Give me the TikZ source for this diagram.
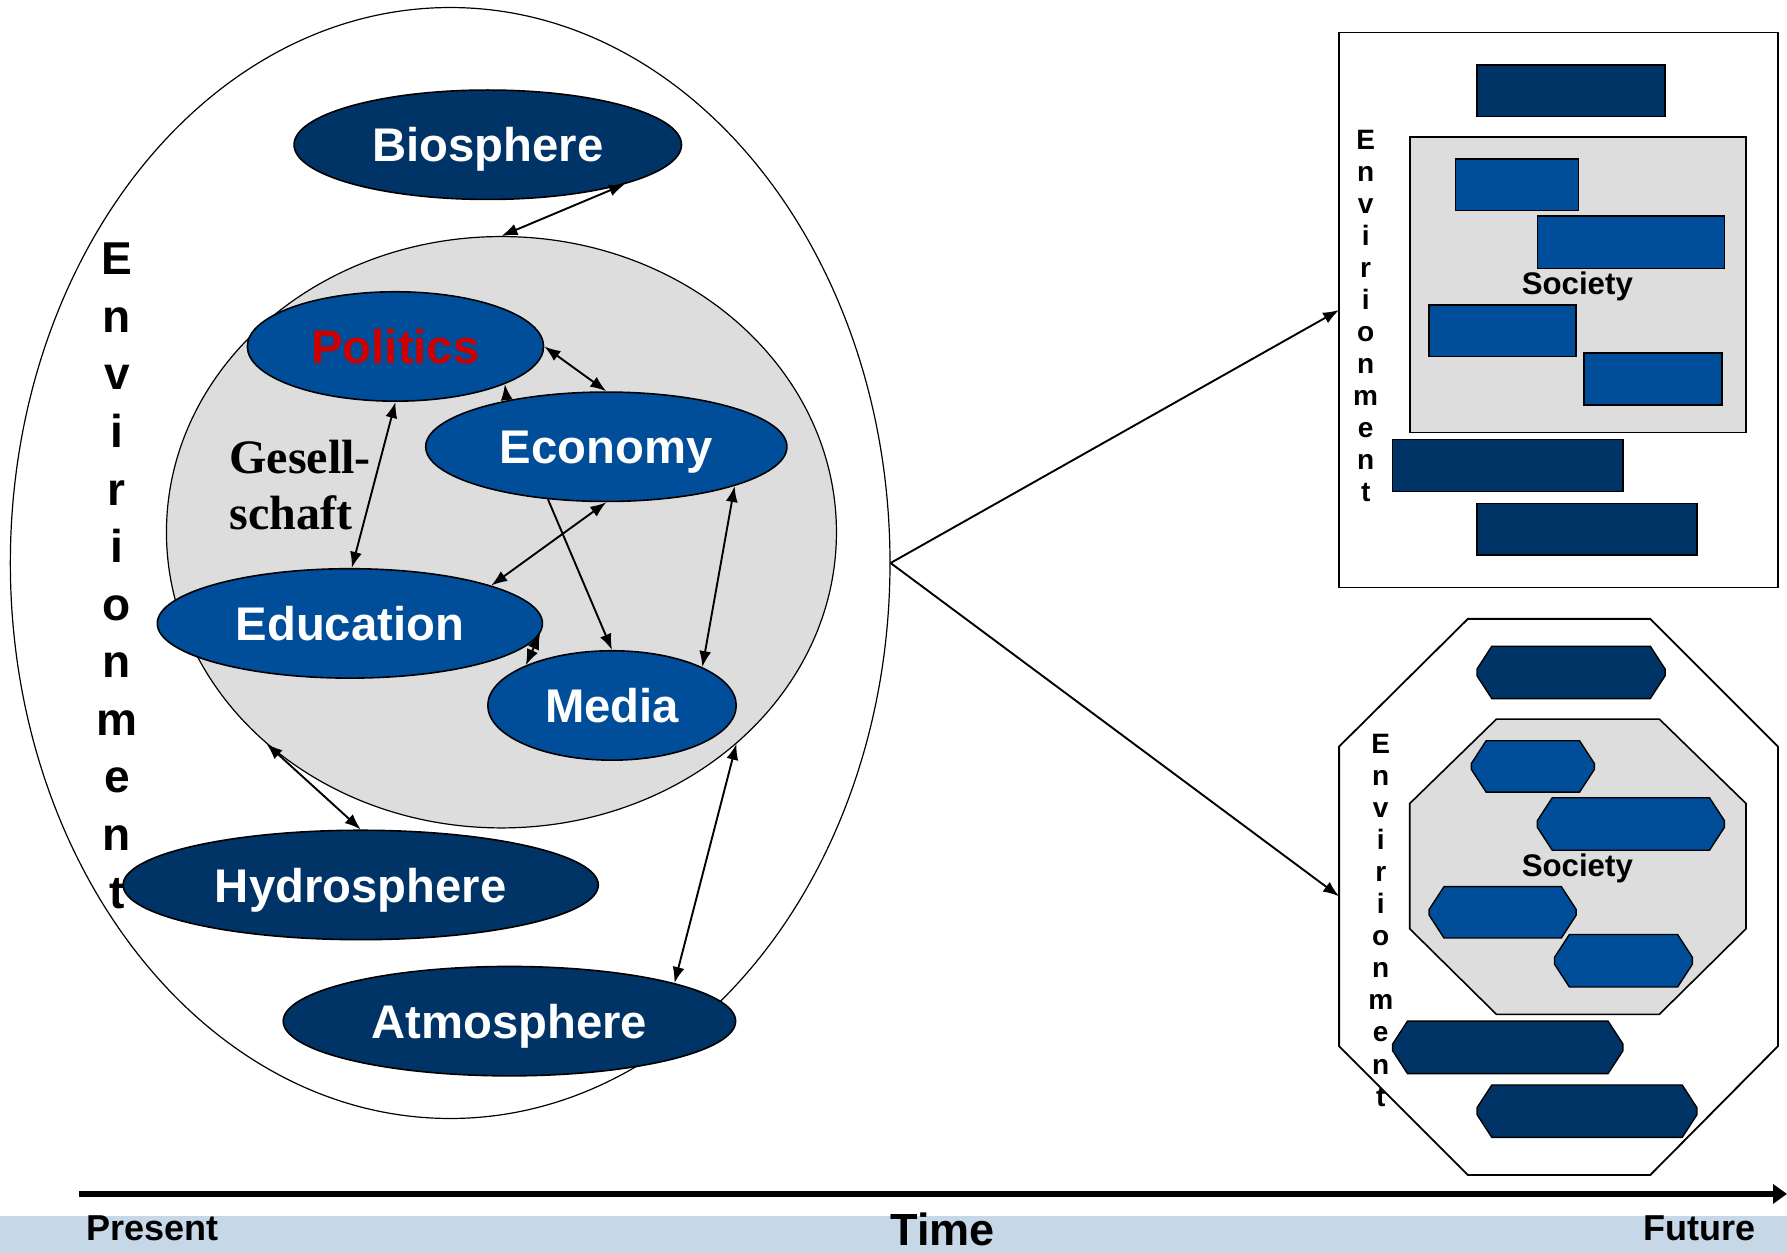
\documentclass[tikz,border=0pt]{standalone}
\usepackage{fontspec}
\setmainfont{Liberation Serif}
\setsansfont{Liberation Sans}
\usetikzlibrary{shapes.geometric,arrows.meta}

\definecolor{navy}{RGB}{0,51,102}
\definecolor{midblue}{RGB}{0,78,154}
\definecolor{socgray}{RGB}{221,221,221}
\definecolor{bandblue}{RGB}{198,216,232}
\definecolor{polred}{RGB}{204,0,0}

\newcommand{\chbar}[5]{\draw[#1] (#2+13,#3) -- (#4-13,#3) -- (#4,#3+20) -- (#4,#5-20) -- (#4-13,#5) -- (#2+13,#5) -- (#2,#5-20) -- (#2,#3+20) -- cycle;}

\begin{document}
\begin{tikzpicture}[x=0.02cm, y=-0.02cm, >={Latex[length=8pt,width=6pt]},
  sphere/.style={ellipse, draw, line width=0.8pt, fill=navy, text=white, inner sep=0pt, text depth=0pt,
    minimum height=1.92cm, font=\sffamily\bfseries\fontsize{23.6}{28}\selectfont},
  sector/.style={sphere, fill=midblue},
  link/.style={line width=0.95pt},
  envtall/.style={align=center, inner sep=0pt, anchor=north, font=\sffamily\bfseries\fontsize{23}{28.75}\selectfont},
  envsmall/.style={align=center, inner sep=0pt, anchor=north, font=\sffamily\bfseries\fontsize{14}{16}\selectfont},
  soclabel/.style={inner sep=0pt, font=\sffamily\bfseries\fontsize{15.6}{18}\selectfont},
  gesell/.style={inner sep=0pt, anchor=base west, font=\rmfamily\bfseries\fontsize{24}{28}\selectfont},
  panel/.style={draw, line width=0.9pt, fill=white},
  socpanel/.style={draw, line width=0.8pt, fill=socgray},
  darkbar/.style={draw, line width=0.7pt, fill=navy},
  bluebar/.style={draw, line width=0.7pt, fill=midblue},
  timel/.style={inner sep=0pt, anchor=base, font=\sffamily\bfseries\fontsize{18}{20}\selectfont}]
\useasboundingbox (0,0) rectangle (1568,1099);
\fill[bandblue] (0,1066.7) rectangle (1568,1099);

\node[ellipse, draw, line width=0.6pt, minimum width=15.44cm, minimum height=19.5cm] (env) at (395,494) {};
\node[ellipse, draw, line width=0.6pt, fill=socgray, minimum width=11.76cm, minimum height=10.38cm] (soc) at (440,467) {};

\node[sphere, minimum width=6.8cm] (bio) at (428,127) {Biosphere};
\node[sector, minimum width=5.2cm, text=polred] (pol) at (347,304) {Politics};
\node[sector, minimum width=6.34cm] (eco) at (532,392) {Economy};
\node[sector, minimum width=6.76cm] (edu) at (307,547) {Education};
\node[sector, minimum width=4.36cm] (med) at (537,619) {Media};
\node[sphere, minimum width=8.34cm] (hyd) at (316.5,776.5) {Hydrosphere};
\node[sphere, minimum width=7.94cm] (atm) at (447,896) {Atmosphere};

\node[gesell] (ges1) at (201,415.5) {Gesell-};
\node[gesell] (ges2) at (201,465) {schaft};

\draw[link,<->] (bio.-16) -- (soc.north);
\draw[link,<->] (pol.east) -- (eco.north);
\draw[link,->] (eco.155) -- (pol.-19);
\draw[link,<->] (pol.south) -- (edu.88);
\draw[link,<->] (eco.south) -- (edu.15);
\draw[link,->] (eco.-138) -- (med.north);
\draw[link,<->] (eco.-17) -- (med.23);
\draw[link,<->] (edu.-3) -- (med.155);
\draw[link,<->] (soc.-138) -- (hyd.north);
\draw[link,<->] (soc.-42) -- (atm.13);

\node[envtall] (envtxt) at (102.5,213) {E\\n\\v\\i\\r\\i\\o\\n\\m\\e\\n\\t};

\draw[panel] (1175,28.5) rectangle (1560,515.5);
\coordinate (boxfut) at (1175,272);
\draw[socpanel] (1237,120) rectangle (1532,379.5);
\draw[darkbar] (1296,57) rectangle (1461,102.4);
\draw[bluebar] (1277,139.4) rectangle (1385,184.7);
\draw[bluebar] (1349,189.7) rectangle (1513,235.7);
\draw[bluebar] (1254,267.6) rectangle (1383,313);
\draw[bluebar] (1390,309.6) rectangle (1511,355.3);
\draw[darkbar] (1222,385.5) rectangle (1424,431.5);
\draw[darkbar] (1296,441.6) rectangle (1489,487);
\node[soclabel] (soc1) at (1384,251) {Society};
\node[envsmall] (env1) at (1198.3,113.8) {E\\n\\v\\i\\r\\i\\o\\n\\m\\e\\n\\t};

\draw[panel] (1288,543) -- (1448,543) -- (1560,655) -- (1560,918) -- (1448,1031) -- (1288,1031) -- (1175,918) -- (1175,655) -- cycle;
\coordinate (octfut) at (1175,786.5);
\draw[socpanel] (1313,631) -- (1456,631) -- (1532,705) -- (1532,815) -- (1456,890) -- (1313,890) -- (1237,815) -- (1237,705) -- cycle;
\chbar{darkbar}{1296}{567}{1461}{613}
\chbar{bluebar}{1291}{650}{1399}{695}
\chbar{bluebar}{1349}{700}{1513}{746}
\chbar{bluebar}{1254}{778}{1383}{823}
\chbar{bluebar}{1364}{820}{1485}{866}
\chbar{darkbar}{1222}{896}{1424}{942}
\chbar{darkbar}{1296}{952}{1489}{998}
\node[soclabel] (soc2) at (1384,762) {Society};
\node[envsmall] (env2) at (1211.5,644) {E\\n\\v\\i\\r\\i\\o\\n\\m\\e\\n\\t};

\draw[link,->] (env.east) -- (boxfut);
\draw[link,->] (env.east) -- (octfut);

\coordinate (tstart) at (69.5,1047.6);
\coordinate (tend) at (1568,1047.6);
\draw[line width=3pt,-{Triangle[length=7pt,width=9.5pt]}] (tstart) -- (tend);
\node[timel] (past) at (133.5,1088.6) {Present};
\node[timel, font=\sffamily\bfseries\fontsize{22.5}{26}\selectfont] (time) at (827,1093) {Time};
\node[timel] (fut) at (1491.5,1088.6) {Future};
\end{tikzpicture}
\end{document}
